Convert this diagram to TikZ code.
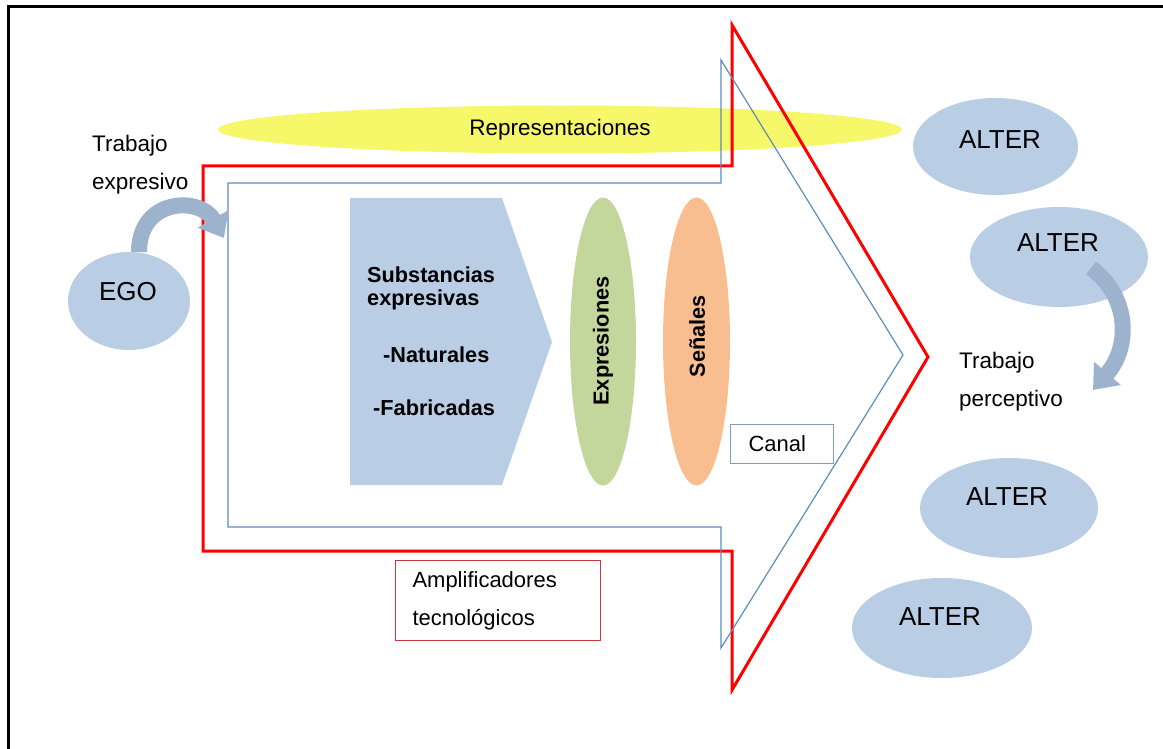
\documentclass[tikz,border=0pt]{standalone}
\usepackage{fontspec}
\setmainfont{Liberation Sans}
\usetikzlibrary{shapes.geometric,arrows.meta}
\definecolor{blobblue}{HTML}{B9CDE5}
\definecolor{curvblue}{HTML}{9DB2CD}
\definecolor{yell}{HTML}{F7F76A}
\definecolor{expgreen}{HTML}{C3D69B}
\definecolor{sigorange}{HTML}{F9BE8F}
\definecolor{chanblue}{HTML}{5B8DB8}
\definecolor{canalgray}{HTML}{7F9DB9}
\definecolor{ampred}{HTML}{C8383A}
\tikzset{
  blob/.style={ellipse, fill=blobblue, inner sep=0pt},
  lbl/.style={inner sep=0pt, font=\fontsize{26}{30}\selectfont},
  txt/.style={inner sep=0pt, font=\fontsize{22.5}{38}\selectfont, align=left},
  btxt/.style={inner sep=0pt, font=\bfseries\fontsize{21.7}{25}\selectfont},
  curved/.style={line width=16pt, draw=curvblue, -{Triangle[width=34pt,length=22pt]}},
  boxed/.style={draw, line width=1pt, inner ysep=0pt, align=left, font=\fontsize{22}{38}\selectfont}
}
\begin{document}
\begin{tikzpicture}[x=1pt,y=-1pt]
\useasboundingbox (0,0) rectangle (1163,749);
% frame
\draw[line width=3pt] (8,749) -- (8,7) -- (1163,7);

% representaciones
\node[ellipse, fill=yell, inner sep=0pt, minimum width=684pt, minimum height=48pt,
      font=\fontsize{22.5}{26}\selectfont] (repr) at (560,129.5) {Representaciones};

% channel arrows
\draw[red, line width=3pt, line join=miter] (203,166) -- (732,166) -- (732,25) -- (928,357)
   -- (732,690) -- (732,551) -- (203,551) -- cycle;
\draw[chanblue, line width=1.2pt] (228,183) -- (721,183) -- (721,60) -- (903,355)
   -- (721,648) -- (721,527) -- (228,527) -- cycle;

% substancias pentagon
\fill[blobblue] (350,198) -- (502,198) -- (552,342) -- (502,485) -- (350,485) -- cycle;
\node[btxt, anchor=base west] (sub1) at (367,282) {Substancias};
\node[btxt, anchor=base west] (sub2) at (367,305) {expresivas};
\node[btxt, anchor=base west] (sub3) at (383,362) {-Naturales};
\node[btxt, anchor=base west] (sub4) at (373,415) {-Fabricadas};

% expresiones / senales
\node[ellipse, fill=expgreen, inner sep=0pt, minimum width=66pt, minimum height=288pt] (expr) at (603,341.5) {};
\node[btxt, rotate=90] (exprl) at (603,341) {Expresiones};
\node[ellipse, fill=sigorange, inner sep=0pt, minimum width=67pt, minimum height=288pt] (sig) at (696.5,341.5) {};
\node[btxt, rotate=90] (sigl) at (697,336) {Señales};

% canal
\node[boxed, draw=canalgray, anchor=west, text width=67pt, inner xsep=18pt, minimum height=39pt]
   (canal) at (730,443.5) {Canal};
% amplificadores
\node[boxed, draw=ampred, anchor=north west, text width=171pt, inner xsep=17pt, minimum height=80pt]
   (ampl) at (395,560) {Amplificadores\\tecnológicos};

% ego
\node[txt, anchor=west] (texp) at (92,164.5) {Trabajo\\expresivo};
\draw[curved] (139,252) .. controls (139,198) and (200,196) .. (224,238);
\node[blob, minimum width=122pt, minimum height=98pt] (ego) at (129,301) {};
\node[lbl] (egol) at (128,292) {EGO};

% alters
\node[blob, minimum width=165pt, minimum height=97pt] (alter1) at (995.5,146.5) {};
\node[lbl] (alter1l) at (1000,140) {ALTER};
\node[blob, minimum width=178pt, minimum height=100pt] (alter2) at (1059,257) {};
\node[lbl] (alter2l) at (1058,243) {ALTER};
\node[blob, minimum width=178pt, minimum height=100pt] (alter3) at (1009,508) {};
\node[lbl] (alter3l) at (1007,497) {ALTER};
\node[blob, minimum width=180pt, minimum height=100pt] (alter4) at (942,628) {};
\node[lbl] (alter4l) at (940,617) {ALTER};

\draw[curved] (1091,268) .. controls (1128,295) and (1132,345) .. (1093,390);
\node[txt, anchor=west] (tper) at (959,381.5) {Trabajo\\perceptivo};
\end{tikzpicture}
\end{document}
